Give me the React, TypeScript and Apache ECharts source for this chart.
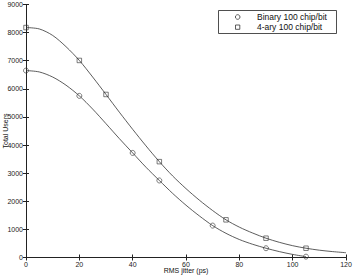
import React, { useEffect, useRef } from "react";
import * as echarts from "echarts";

const FONT = "Liberation Sans, Arial, Helvetica, sans-serif";

// Fitted curves
const binaryCurveX = [0, 5, 10, 15, 20, 25, 30, 35, 40, 45, 50, 55, 60, 65, 70, 75, 80, 85, 90, 95, 100, 105];
const binaryCurveY = [6650, 6600, 6420, 6130, 5750, 5280, 4760, 4230, 3720, 3210, 2740, 2280, 1860, 1480, 1135, 860, 640, 470, 330, 210, 110, 30];
const quatCurveX = [0, 5, 10, 15, 20, 25, 30, 35, 40, 45, 50, 55, 60, 65, 70, 75, 80, 85, 90, 95, 100, 105, 110, 115, 120];
const quatCurveY = [8180, 8130, 7900, 7500, 7010, 6420, 5800, 5170, 4560, 3970, 3410, 2900, 2450, 2040, 1670, 1340, 1080, 870, 687, 540, 420, 330, 260, 210, 170];

// Markers
const binaryMarkX = [0, 20, 40, 50, 70, 90, 105];
const binaryMarkY = [6650, 5750, 3720, 2740, 1135, 330, 30];
const quatMarkX = [0, 20, 30, 50, 75, 90, 105];
const quatMarkY = [8180, 7010, 5800, 3410, 1340, 687, 330];

const legendNames = ["Binary 100 chip/bit", "4-ary 100 chip/bit"];
const xTitle = "RMS jitter (ps)";
const yTitle = "Total Users";

const zip = (xs: number[], ys: number[]) => xs.map((x, i) => [x, ys[i]]);

export default function App() {
  const ref = useRef<HTMLDivElement>(null);
  useEffect(() => {
    if (!ref.current) return;
    const chart = echarts.init(ref.current, undefined, { renderer: "svg" });
    const axisColor = "#222";
    const lineColor = "#333";
    const baseX = {
      type: "value" as const,
      min: 0,
      max: 120,
      interval: 20,
      splitLine: { show: false },
      axisLine: { show: true, lineStyle: { color: axisColor, width: 1 } },
      axisTick: { show: true, inside: true, length: 3, lineStyle: { color: axisColor } },
    };
    const baseY = {
      type: "value" as const,
      min: 0,
      max: 9000,
      interval: 1000,
      splitLine: { show: false },
      axisLine: { show: true, lineStyle: { color: axisColor, width: 1 } },
      axisTick: { show: true, inside: true, length: 3, lineStyle: { color: axisColor } },
    };
    const labelStyle = {
      fontSize: 7,
      color: axisColor,
      fontFamily: FONT,
      margin: 3,
      formatter: (v: number) => String(v),
    };
    chart.setOption({
      animation: false,
      backgroundColor: "#fff",
      grid: { left: 26, right: 7, top: 4.5, bottom: 18.5, containLabel: false, outerBoundsMode: "none" },
      xAxis: [
        {
          ...baseX,
          position: "bottom",
          axisLabel: labelStyle,
          name: xTitle,
          nameLocation: "middle",
          nameGap: 9,
          nameMoveOverlap: false,
          nameTextStyle: { fontSize: 7, fontFamily: FONT, color: "#111" },
        },
        { ...baseX, position: "top", axisLabel: { show: false } },
      ],
      yAxis: [
        { ...baseY, position: "left", axisLabel: labelStyle },
        { ...baseY, position: "right", axisLabel: { show: false } },
      ],
      series: [
        {
          type: "line",
          data: zip(binaryCurveX, binaryCurveY),
          smooth: 0.3,
          showSymbol: false,
          lineStyle: { color: lineColor, width: 0.8 },
          silent: true,
        },
        {
          type: "line",
          data: zip(quatCurveX, quatCurveY),
          smooth: 0.3,
          showSymbol: false,
          lineStyle: { color: lineColor, width: 0.8 },
          silent: true,
        },
        {
          name: legendNames[0],
          type: "scatter",
          data: zip(binaryMarkX, binaryMarkY),
          symbol: "circle",
          symbolSize: 5,
          itemStyle: { color: "rgba(255,255,255,0)", borderColor: lineColor, borderWidth: 0.8 },
        },
        {
          name: legendNames[1],
          type: "scatter",
          data: zip(quatMarkX, quatMarkY),
          symbol: "rect",
          symbolSize: 4.5,
          itemStyle: { color: "rgba(255,255,255,0)", borderColor: lineColor, borderWidth: 0.8 },
        },
      ],
      graphic: [
        {
          type: "text",
          x: 8.5,
          y: 131,
          rotation: Math.PI / 2,
          style: { text: yTitle, fontSize: 7, fontFamily: FONT, fill: "#111", align: "center", verticalAlign: "bottom" },
        },
        {
          type: "rect",
          shape: { x: 218.5, y: 10.5, width: 118, height: 23 },
          style: { fill: "#fff", stroke: axisColor, lineWidth: 0.8 },
          z: 100,
        },
        {
          type: "circle",
          shape: { cx: 237.7, cy: 17, r: 2.3 },
          style: { fill: "none", stroke: lineColor, lineWidth: 0.8 },
          z: 101,
        },
        {
          type: "rect",
          shape: { x: 235.5, y: 25, width: 4.3, height: 4.3 },
          style: { fill: "none", stroke: lineColor, lineWidth: 0.8 },
          z: 101,
        },
        {
          type: "text",
          x: 257,
          y: 17,
          style: { text: legendNames[0], fontSize: 8.5, fontFamily: FONT, fill: "#111", verticalAlign: "middle", align: "left" },
          z: 101,
        },
        {
          type: "text",
          x: 257,
          y: 27,
          style: { text: legendNames[1], fontSize: 8.5, fontFamily: FONT, fill: "#111", verticalAlign: "middle", align: "left" },
          z: 101,
        },
      ],
    });
    return () => chart.dispose();
  }, []);
  return (
    <div
      ref={ref}
      style={{ position: "fixed", left: 0, top: 0, width: 353, height: 276, background: "#fff" }}
    />
  );
}
